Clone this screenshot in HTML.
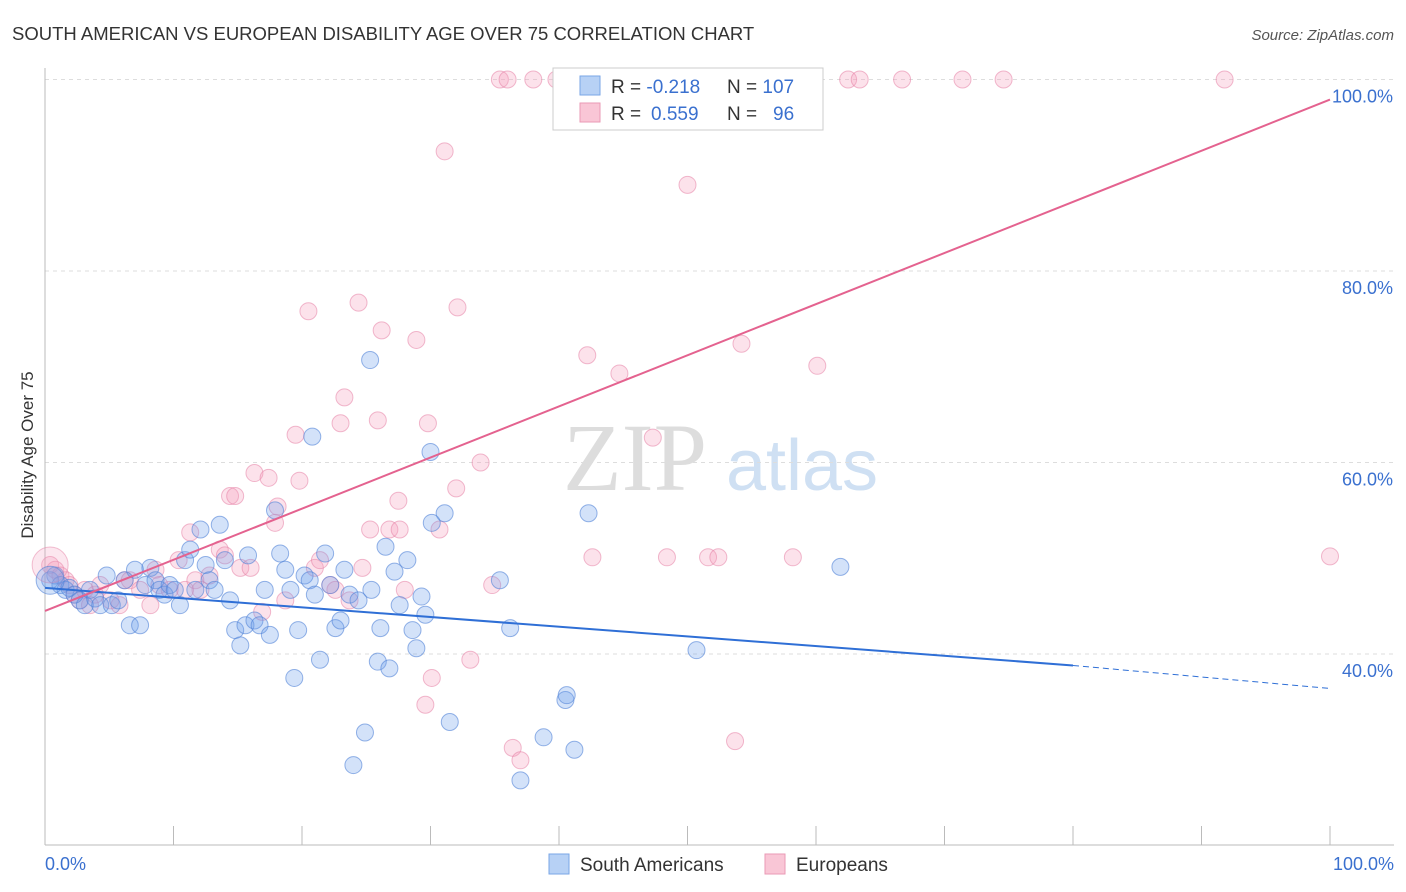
<!DOCTYPE html>
<html><head><meta charset="utf-8"><style>
body{margin:0;background:#fff;font-family:"Liberation Sans",sans-serif;}
svg{display:block}
</style></head><body>
<svg id="chart" width="1406" height="892" xmlns="http://www.w3.org/2000/svg" font-family="Liberation Sans, sans-serif">
<text x="12" y="40" font-size="18.5" fill="#333">SOUTH AMERICAN VS EUROPEAN DISABILITY AGE OVER 75 CORRELATION CHART</text>
<text x="1394" y="40" font-size="15" fill="#555" font-style="italic" text-anchor="end">Source: ZipAtlas.com</text>
<text transform="translate(33,455) rotate(-90)" font-size="17" fill="#333" text-anchor="middle">Disability Age Over 75</text>
<g>
<text x="635" y="490" font-size="96" fill="#ddd" font-family="Liberation Serif, serif" text-anchor="middle">ZIP</text>
<text x="802" y="490" font-size="72" fill="#cfe0f3" text-anchor="middle">atlas</text>
</g>
<g id="grid"></g>
<g id="axes"></g>
<g id="pts"></g>
<g id="trends"></g>
<g>
<rect x="553" y="68" width="270" height="62" fill="#fff" stroke="#ccc"/>
<rect x="580" y="76" width="20" height="19" fill="#b7d1f5" stroke="#7aa6e6"/>
<rect x="580" y="103" width="20" height="19" fill="#f9c6d6" stroke="#ea9ab5"/>
<text x="611" y="93" font-size="19" fill="#333">R = <tspan fill="#3a70cf">-0.218</tspan></text>
<text x="727" y="93" font-size="19" fill="#333">N = <tspan fill="#3a70cf">107</tspan></text>
<text x="611" y="120" font-size="19" fill="#333">R = <tspan fill="#3a70cf" x="651">0.559</tspan></text>
<text x="727" y="120" font-size="19" fill="#333">N = <tspan fill="#3a70cf" x="773">96</tspan></text>
</g>
<g>
<rect x="549" y="854" width="20" height="20" fill="#b7d1f5" stroke="#7aa6e6"/>
<text x="580" y="871" font-size="19" fill="#333">South Americans</text>
<rect x="765" y="854" width="20" height="20" fill="#f9c6d6" stroke="#ea9ab5"/>
<text x="796" y="871" font-size="19" fill="#333">Europeans</text>
</g>
</svg>
<script>
const yTicks=[40,60,80,100];
const xTicks=[0,10,20,30,40,50,60,70,80,90,100];
const blueX=[0.4,0.8,1.2,1.6,1.9,2.3,2.7,3.1,3.5,3.9,4.3,4.8,5.2,5.7,6.2,6.6,7.0,7.4,7.8,8.2,8.6,8.9,9.3,9.7,10.1,10.5,10.9,11.3,11.7,12.1,12.5,12.8,13.2,13.6,14.0,14.4,14.8,15.2,15.6,15.8,16.3,16.7,17.1,17.5,17.9,18.3,18.7,19.1,19.4,19.7,20.2,20.6,20.8,21.0,21.4,21.8,22.2,22.6,23.0,23.3,23.7,24.0,24.4,24.9,25.3,25.4,25.9,26.1,26.5,26.8,27.2,27.6,28.2,28.6,28.9,29.3,29.6,30.0,30.1,31.1,31.5,35.4,36.2,37.0,38.8,40.5,40.6,41.2,42.3,50.7,61.9];
const blueY=[47.7,48.2,47.2,46.7,46.9,46.2,45.6,45.1,46.7,45.8,45.1,48.2,45.1,45.6,47.7,43.0,48.8,43.0,47.2,49.0,47.7,46.7,46.2,47.2,46.7,45.1,49.8,50.9,46.7,53.0,49.3,47.7,46.7,53.5,49.8,45.6,42.5,40.9,43.0,50.3,43.5,43.0,46.7,42.0,55.0,50.5,48.8,46.7,37.5,42.5,48.2,47.7,62.7,46.2,39.4,50.5,47.2,42.7,43.5,48.8,46.2,28.4,45.6,31.8,70.7,46.7,39.2,42.7,51.2,38.5,48.6,45.1,49.8,42.5,40.6,46.0,44.1,61.1,53.7,54.7,32.9,47.7,42.7,26.8,31.3,35.2,35.7,30.0,54.7,40.4,49.1];
const pinkX=[0.4,0.8,1.2,1.6,1.9,2.3,2.7,3.1,3.5,3.9,4.3,5.1,5.8,6.2,6.6,7.4,8.2,8.6,8.9,9.7,10.4,10.9,11.3,11.7,12.1,12.8,13.6,14.0,14.4,14.8,15.2,16.0,16.3,16.9,17.4,17.9,18.1,18.7,19.5,19.8,20.5,21.0,21.4,22.2,22.6,23.0,23.3,23.7,24.4,24.7,25.3,25.9,26.2,26.8,27.5,27.6,28.0,28.9,29.6,29.8,30.1,30.7,31.1,32.0,32.1,33.1,33.9,34.8,35.4,36.0,36.4,37.0,38.0,39.8,42.2,42.6,44.7,47.3,48.4,50.0,51.6,52.4,53.7,54.2,58.2,60.1,62.5,63.4,66.7,71.4,74.6,91.8,100];
const pinkY=[49.3,48.8,48.2,47.7,47.2,46.2,45.6,46.7,45.1,46.2,47.2,45.6,45.1,47.7,47.7,46.7,45.1,48.8,47.2,46.7,49.8,46.7,52.7,47.7,46.7,48.2,50.9,50.3,56.5,56.5,49.0,49.0,58.9,44.4,58.4,53.7,55.4,45.6,62.9,58.1,75.8,49.0,49.8,47.2,46.7,64.1,66.8,45.6,76.7,49.0,53.0,64.4,73.8,53.0,56.0,53.0,46.7,72.8,34.7,64.1,37.5,53.0,92.5,57.3,76.2,39.4,60.0,47.2,100,100,30.2,28.9,100,100,71.2,50.1,69.3,62.6,50.1,89.0,50.1,50.1,30.9,72.4,50.1,70.1,100,100,100,100,100,100,50.2];
const blueTrendX=[0,80,100];
const blueTrendY=[46.9,38.8,36.4];
const pinkTrendX=[0,100];
const pinkTrendY=[44.5,97.9];

const NS="http://www.w3.org/2000/svg";
const sx=v=>45+v*12.85;
const sy=v=>654-(v-40)*9.575;
function mk(tag,attrs,parent){const e=document.createElementNS(NS,tag);for(const k in attrs)e.setAttribute(k,attrs[k]);parent.appendChild(e);return e;}
const grid=document.getElementById('grid'),axes=document.getElementById('axes'),pts=document.getElementById('pts'),tr=document.getElementById('trends');
yTicks.forEach(t=>{
  const l=mk('line',{x1:45,x2:1394,y1:sy(t),y2:sy(t),stroke:'#ddd','stroke-dasharray':'4,4'},grid);
  
  
  const tx=mk('text',{x:1393,y:sy(t)+23,'font-size':18,fill:'#3a70cf','text-anchor':'end'},axes);
  tx.textContent=t.toFixed(1)+'%';
  
  
});
const xa=mk('line',{x1:45,x2:1394,y1:845,y2:845,stroke:'#bbb'},axes);


const ya=mk('line',{x1:45,x2:45,y1:68,y2:845,stroke:'#bbb'},axes);


xTicks.forEach(t=>{
  const l=mk('line',{x1:sx(t),x2:sx(t),y1:826,y2:845,stroke:'#bbb'},axes);
  
  
});
[[0,'0.0%','start',45],[100,'100.0%','end',1394]].forEach(a=>{
  const tx=mk('text',{x:a[3],y:870,'font-size':18,fill:'#3a70cf','text-anchor':a[2]},axes);
  tx.textContent=a[1];
  
  
});
pinkX.forEach((x,i)=>{
  const c=mk('circle',{cx:sx(x),cy:sy(pinkY[i]),r:8.5,fill:'rgba(244,160,190,0.3)',stroke:'rgba(230,130,165,0.55)'},pts);
  
  
});
blueX.forEach((x,i)=>{
  const c=mk('circle',{cx:sx(x),cy:sy(blueY[i]),r:8.5,fill:'rgba(110,160,235,0.3)',stroke:'rgba(80,130,215,0.6)'},pts);
  
  
});
const big1=mk('circle',{cx:sx(pinkX[0]),cy:sy(pinkY[0]),r:18,fill:'rgba(244,160,190,0.25)',stroke:'rgba(230,130,165,0.5)'},pts);


const big2=mk('circle',{cx:sx(blueX[0]),cy:sy(blueY[0]),r:14,fill:'rgba(110,160,235,0.3)',stroke:'rgba(80,130,215,0.6)'},pts);


const b1=mk('line',{x1:sx(blueTrendX[0]),y1:sy(blueTrendY[0]),x2:sx(blueTrendX[1]),y2:sy(blueTrendY[1]),stroke:'#2f6fd6','stroke-width':2},tr);


const b2=mk('line',{x1:sx(blueTrendX[1]),y1:sy(blueTrendY[1]),x2:sx(blueTrendX[2]),y2:sy(blueTrendY[2]),stroke:'#2f6fd6','stroke-width':1,'stroke-dasharray':'6,4'},tr);


const p1=mk('line',{x1:sx(pinkTrendX[0]),y1:sy(pinkTrendY[0]),x2:sx(pinkTrendX[1]),y2:sy(pinkTrendY[1]),stroke:'#e4628f','stroke-width':2},tr);


</script>
</body></html>
